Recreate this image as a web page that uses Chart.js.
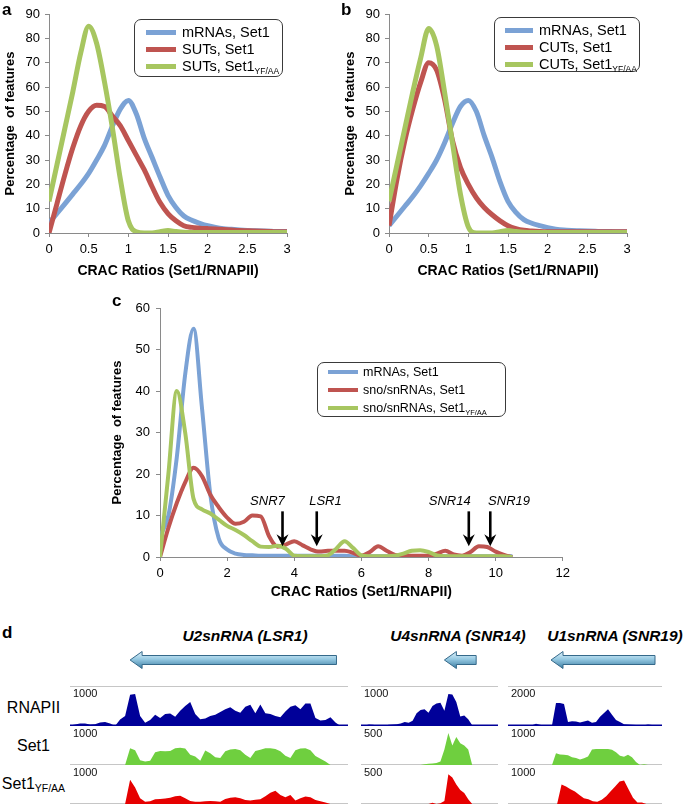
<!DOCTYPE html>
<html>
<head>
<meta charset="utf-8">
<script src="https://cdn.jsdelivr.net/npm/chart.js@4.4.0/dist/chart.umd.min.js"></script>
<style>
  body { margin: 0; background: #fff; font-family: 'Liberation Sans', Arial, sans-serif; color: #000; }
  #fig { position: relative; width: 685px; height: 812px; overflow: hidden; }
  canvas { position: absolute; }
  .plabel { position: absolute; font-weight: bold; font-size: 17px; line-height: 17px; }
  .legend { position: absolute; border: 1px solid #3a3a3a; border-radius: 7px; background: #fff; box-sizing: border-box; }
  .ltxt { position: absolute; white-space: nowrap; }
  .ltxt sub, .tname sub { vertical-align: -3px; line-height: 0; }
  .gene { position: absolute; width: 220px; text-align: center; font-weight: bold; font-style: italic; font-size: 15.5px; line-height: 15.5px; white-space: nowrap; }
  .tname { position: absolute; left: 0; width: 67px; text-align: center; font-size: 16px; line-height: 16px; white-space: nowrap; }
</style>
</head>
<body>
<div id="fig">
  <canvas id="chartA" width="300" height="290" style="left:0;top:0"></canvas>
  <canvas id="chartB" width="300" height="290" style="left:340px;top:0"></canvas>
  <canvas id="chartC" width="470" height="316" style="left:105px;top:290px"></canvas>

  <div class="plabel" style="left:2px;top:1px">a</div>
  <div class="plabel" style="left:341px;top:1px">b</div>
  <div class="plabel" style="left:112px;top:292px">c</div>
  <div class="plabel" style="left:2px;top:624px">d</div>

  <div id="legA" class="legend"></div>
  <div id="legB" class="legend"></div>
  <div id="legC" class="legend"></div>

  <div id="genes"></div>
  <div id="tnames"></div>

  <canvas id="t1r1" width="278" height="81" style="left:70px;top:645px"></canvas>
  <canvas id="t1r2" width="278" height="39" style="left:70px;top:726px"></canvas>
  <canvas id="t1r3" width="278" height="39" style="left:70px;top:765px"></canvas>
  <canvas id="t2r1" width="137" height="81" style="left:361px;top:645px"></canvas>
  <canvas id="t2r2" width="137" height="39" style="left:361px;top:726px"></canvas>
  <canvas id="t2r3" width="137" height="39" style="left:361px;top:765px"></canvas>
  <canvas id="t3r1" width="154" height="81" style="left:508px;top:645px"></canvas>
  <canvas id="t3r2" width="154" height="39" style="left:508px;top:726px"></canvas>
  <canvas id="t3r3" width="154" height="39" style="left:508px;top:765px"></canvas>
</div>

<script>
// ---- panels a / b : distribution of CRAC ratios
const xsAB = [0,0.1,0.2,0.3,0.4,0.5,0.6,0.7,0.8,0.9,1,1.1,1.2,1.3,1.4,1.5,1.6,1.7,1.8,1.9,2,2.1,2.2,2.3,2.4,2.5,2.6,2.7,2.8,2.9,3];
const mrnaA  = [4,8,12,16,20,24.5,30,36,44,51,54.5,49,39,31,23,15.5,10.5,7,5.2,4,3,2.3,1.8,1.5,1.2,1,0.9,0.8,0.7,0.6,0.6];
const sutA   = [0,12,24,35,44,50,52.5,52,48,44,38,32,26,19,12.5,8,5,3,2.3,2,1.8,1.6,1.4,1.2,1,0.9,0.8,0.7,0.6,0.5,0.5];
const sutYfA = [13,28,43,58,74,85,78,62,43,22,5,0.5,0,0,0.5,1,0.6,0.3,0.2,0.2,0.2,0.2,0.2,0.2,0.2,0.2,0.2,0.2,0.2,0.2,0.2];
const mrnaB  = [3,7,11,15,19.5,24.5,30,37,45,52,54.5,50,40,31,21,13,8.5,5.5,4,3,2.2,1.6,1.2,1,0.9,0.8,0.7,0.6,0.6,0.5,0.5];
const cutB   = [3,22,38,51,62,70,67,55,38,27,20,14.5,10.5,7.5,5,3,1.8,1.1,0.8,0.6,0.5,0.5,0.5,0.5,0.5,0.5,0.5,0.5,0.5,0.5,0.5];
const cutYfB = [13,28,43,58,72,84,77,58,37,16,2.5,0,0,0,0.5,1,0.6,0.3,0.2,0.2,0.2,0.2,0.2,0.2,0.2,0.2,0.2,0.2,0.2,0.2,0.2];

// ---- panel c
const xsC = [0,0.25,0.5,0.75,1,1.25,1.5,1.75,2,2.25,2.5,2.75,3,3.25,3.5,3.75,4,4.25,4.5,4.75,5,5.25,5.5,5.75,6,6.25,6.5,6.75,7,7.25,7.5,7.75,8,8.25,8.5,8.75,9,9.25,9.5,9.75,10,10.25,10.5];
const mrnaC  = [5,10,24,44,55,36,15,4.5,1.8,0.8,0.5,0.4,0.3,0.3,0.3,0.3,0.3,0.3,0.3,0.3,0.3,0.3,0.3,0.2,0.2,0.2,0.2,0.2,0.2,0.2,0.2,0.2,0.2,0.2,0.2,0.2,0.2,0.2,0.2,0.2,0.2,0.2,0.2];
const snoC   = [0,7,13,18,21.5,19.5,15,12,9.5,8,8.5,10,9.8,5,2.5,3,3.8,2.8,1.8,1.3,1.5,1.5,1.5,1,0.3,1.2,2.6,1.5,0.5,0.3,0.3,0.3,0.3,0.8,1.5,0.6,0.3,1.2,2.6,2.4,1.3,0.5,0];
const snoYfC = [0,20,40,30,14,11.5,10.5,9,7.5,6.5,5.3,3.8,2.5,2.4,2.7,2,0.3,0.2,0.2,0.2,0.4,2,3.8,2.2,0.4,0.2,0.2,0.2,0.3,0.8,1.5,1.6,1.2,0.4,0.2,0.2,0.2,0.2,0.2,0.2,0.2,0.2,0];
const annoNames  = ['SNR7', 'LSR1', 'SNR14', 'SNR19'];
const annoArrowX = [3.65, 4.67, 9.2, 9.84];
const annoLabelX = [3.2, 4.93, 8.63, 10.4];

const legendA = ['mRNAs, Set1', 'SUTs, Set1', 'SUTs, Set1'];
const legendB = ['mRNAs, Set1', 'CUTs, Set1', 'CUTs, Set1'];
const legendC = ['mRNAs, Set1', 'sno/snRNAs, Set1', 'sno/snRNAs, Set1'];
const legendSubs = ['', '', 'YF/AA'];

// ---- panel d : genome browser tracks (one value per bin)
const lsr1Rnap = [10,40,60,65,40,45,90,100,60,0,160,250,780,800,250,80,150,280,200,300,310,230,380,500,600,300,170,190,250,280,350,420,470,380,330,480,530,320,540,320,300,250,220,360,480,520,420,560,560,200,140,150,220,90,0,0];
const lsr1Set1 = [0,0,0,0,0,0,0,0,0,0,0,0,430,380,120,90,110,330,360,350,360,430,440,420,260,220,110,370,300,200,180,350,400,410,380,260,180,360,390,430,430,410,350,240,180,380,420,430,380,230,160,90,0,0,0,0];
const lsr1Yf   = [0,0,0,0,0,0,0,0,0,0,0,0,620,420,150,60,70,120,130,140,160,200,210,150,80,60,60,70,80,70,60,130,160,170,150,100,90,110,120,200,290,340,230,170,230,90,150,190,170,100,70,40,0,0,0,0];
const snr14Rnap = [10,15,35,30,10,5,10,30,35,45,60,100,80,130,320,400,420,330,500,560,580,380,800,790,600,240,260,170,20,0,0,0,0,0,0];
const snr14Set1 = [0,0,0,0,0,0,0,0,0,0,0,0,0,0,0,0,10,15,20,25,45,200,410,250,360,280,250,200,0,0,0,0,0,0,0];
const snr14Yf   = [0,0,0,0,0,0,0,0,0,0,0,0,0,0,0,0,0,0,15,0,10,40,380,340,250,180,140,60,0,0,0,0,0,0,0];
const snr19Rnap = [0,5,10,10,15,20,40,110,60,30,30,40,1150,1150,1100,200,240,220,180,230,270,160,200,460,650,840,560,300,200,90,80,60,50,40,40,80,50,0,0];
const snr19Set1 = [0,0,0,0,0,0,0,0,0,0,0,0,300,270,260,250,200,180,140,170,220,400,410,410,410,410,390,330,240,210,260,200,80,0,20,0,0,0,0];
const snr19Yf   = [0,0,0,0,0,0,0,0,0,0,0,0,500,450,380,320,230,150,120,70,60,110,200,330,450,580,600,380,160,40,40,0,0,0,0];
const trackMaxLSR1  = [1000, 1000, 1000];
const trackMaxSNR14 = [1000, 500, 500];
const trackMaxSNR19 = [2000, 1000, 1000];
const geneTitles = ['U2snRNA (LSR1)', 'U4snRNA (SNR14)', 'U1snRNA (SNR19)'];
const geneSpans = [[12, 53.2], [21, 29], [10.75, 36.75]];   // in bins, arrow head on the left
const trackNames = ['RNAPII', 'Set1', 'Set1'];
const trackSubs = ['', '', 'YF/AA'];

const BLUE = '#7ba2d5', RED = '#bf5450', GREEN = '#a7c660';
const AXIS = '#8a8a8a';
const FONT = "'Liberation Sans', Arial, sans-serif";
Chart.defaults.font.family = FONT;
Chart.defaults.color = '#000';

function curveChart(id, xs, series, o) {
  const colors = [BLUE, RED, GREEN];
  return new Chart(document.getElementById(id), {
    type: 'line',
    data: {
      datasets: series.map((ys, k) => ({
        data: xs.map((x, i) => ({ x: x, y: ys[i] })),
        borderColor: colors[k],
        borderWidth: o.lw,
        pointRadius: 0,
        fill: false,
        cubicInterpolationMode: 'monotone',
        order: 2 - k   // green on top, like Excel
      }))
    },
    options: {
      responsive: false, animation: false, devicePixelRatio: 1,
      layout: { padding: o.pad },
      plugins: { legend: { display: false }, tooltip: { enabled: false } },
      scales: {
        x: {
          type: 'linear', min: 0, max: o.xmax,
          ticks: { stepSize: o.xstep, font: { size: 13 }, padding: 5, maxRotation: 0, color: '#000', callback: v => String(v) },
          grid: { drawOnChartArea: false, tickLength: 4, color: AXIS },
          border: { color: AXIS },
          title: { display: true, text: 'CRAC Ratios (Set1/RNAPII)', font: { size: 14, weight: 'bold' }, color: '#000', padding: { top: 0, bottom: o.xtPad } },
          afterFit: s => { s.height = o.xh; }
        },
        y: {
          min: 0, max: o.ymax,
          ticks: { stepSize: 10, font: { size: 13 }, padding: o.ytickPad, color: '#000' },
          grid: { drawOnChartArea: false, tickLength: 4, color: AXIS },
          border: { color: AXIS },
          title: { display: true, text: 'Percentage  of features', font: { size: 13, weight: 'bold' }, color: '#000', padding: { top: o.ytPad, bottom: 0 } },
          afterFit: s => { s.width = o.yw; }
        }
      }
    },
    plugins: o.plugins || []
  });
}

const abOpts = { lw: 5, pad: { top: 14, right: 13, left: 0, bottom: 0 }, xmax: 3, xstep: 0.5, ymax: 90, xh: 57, yw: 49, xtPad: 10, ytPad: 3, ytickPad: 5 };
curveChart('chartA', xsAB, [mrnaA, sutA, sutYfA], abOpts);
curveChart('chartB', xsAB, [mrnaB, cutB, cutYfB], abOpts);

// arrows pointing at individual snRNAs in panel c
const snrArrows = {
  id: 'snrArrows',
  afterDatasetsDraw(chart) {
    const { ctx, scales: { x, y } } = chart;
    ctx.save();
    ctx.fillStyle = '#000';
    ctx.strokeStyle = '#000';
    ctx.font = 'italic 13px ' + FONT;
    ctx.textAlign = 'center';
    ctx.textBaseline = 'alphabetic';
    annoNames.forEach((name, i) => {
      const ax = x.getPixelForValue(annoArrowX[i]);
      const top = y.getPixelForValue(11);
      const tip = y.getPixelForValue(2.6);
      ctx.fillText(name, x.getPixelForValue(annoLabelX[i]), y.getPixelForValue(12.5));
      ctx.lineWidth = 2.6;
      ctx.beginPath(); ctx.moveTo(ax, top); ctx.lineTo(ax, tip - 7); ctx.stroke();
      ctx.beginPath();
      ctx.moveTo(ax - 6, tip - 12); ctx.lineTo(ax, tip); ctx.lineTo(ax + 6, tip - 12); ctx.lineTo(ax, tip - 8);
      ctx.closePath(); ctx.fill();
    });
    ctx.restore();
  }
};
curveChart('chartC', xsC, [mrnaC, snoC, snoYfC], {
  lw: 4, pad: { top: 18, right: 10, left: 0, bottom: 0 }, xmax: 12, xstep: 2, ymax: 60,
  xh: 49, yw: 55, xtPad: 5, ytPad: 5, ytickPad: 6, plugins: [snrArrows]
});

// ---- HTML legends (they need subscripts)
function buildLegend(id, labels, L) {
  const box = document.getElementById(id);
  Object.assign(box.style, { left: L.x + 'px', top: L.y + 'px', width: L.w + 'px', height: L.h + 'px' });
  const colors = [BLUE, RED, GREEN];
  labels.forEach((t, i) => {
    const sw = document.createElement('div');
    Object.assign(sw.style, { position: 'absolute', left: L.swX + 'px', top: (L.rows[i] - L.lw / 2) + 'px', width: L.swW + 'px', height: L.lw + 'px', background: colors[i] });
    box.appendChild(sw);
    const tx = document.createElement('div');
    tx.className = 'ltxt';
    Object.assign(tx.style, { left: L.txX + 'px', top: (L.rows[i] - L.fs * 0.49) + 'px', fontSize: L.fs + 'px', lineHeight: L.fs + 'px' });
    tx.innerHTML = t + (legendSubs[i] ? '<sub style="font-size:' + L.ss + 'px">' + legendSubs[i] + '</sub>' : '');
    box.appendChild(tx);
  });
}
buildLegend('legA', legendA, { x: 134, y: 19, w: 149, h: 58, rows: [12, 29, 46], swX: 11, swW: 30, lw: 5, txX: 47, fs: 14.5, ss: 8.5 });
buildLegend('legB', legendB, { x: 494, y: 17, w: 146, h: 55, rows: [12, 29, 46], swX: 10, swW: 28, lw: 5, txX: 44, fs: 14.5, ss: 8.5 });
buildLegend('legC', legendC, { x: 317, y: 362, w: 189, h: 55, rows: [9, 27, 45], swX: 10, swW: 30, lw: 4, txX: 45, fs: 12.5, ss: 7.5 });

// ---- panel d
const geneCenters = [245, 458, 615];
geneTitles.forEach((t, i) => {
  const d = document.createElement('div');
  d.className = 'gene';
  d.style.left = (geneCenters[i] - 110) + 'px';
  d.style.top = '628px';
  d.textContent = t;
  document.getElementById('genes').appendChild(d);
});
const nameTops = [700, 738, 776];
trackNames.forEach((t, i) => {
  const d = document.createElement('div');
  d.className = 'tname';
  d.style.top = nameTops[i] + 'px';
  d.innerHTML = t + (trackSubs[i] ? '<sub style="font-size:10.5px">' + trackSubs[i] + '</sub>' : '');
  document.getElementById('tnames').appendChild(d);
});

function drawGeneArrow(ctx, x0, x1, yc) {
  const head = 12, hh = 8.5, sh = 4.5;
  const g = ctx.createLinearGradient(0, yc - hh, 0, yc + hh);
  g.addColorStop(0, '#e2f3fb');
  g.addColorStop(0.45, '#96c9e2');
  g.addColorStop(1, '#3c7da2');
  ctx.beginPath();
  ctx.moveTo(x0, yc);
  ctx.lineTo(x0 + head, yc - hh);
  ctx.lineTo(x0 + head, yc - sh);
  ctx.lineTo(x1, yc - sh);
  ctx.lineTo(x1, yc + sh);
  ctx.lineTo(x0 + head, yc + sh);
  ctx.lineTo(x0 + head, yc + hh);
  ctx.closePath();
  ctx.fillStyle = g;
  ctx.fill();
  ctx.strokeStyle = '#35698a';
  ctx.lineWidth = 1;
  ctx.stroke();
}

const trackDeco = {
  id: 'trackDeco',
  beforeDatasetsDraw(chart, args, o) {
    const { ctx, chartArea: a } = chart;
    ctx.save();
    ctx.strokeStyle = '#c6c6c6';
    ctx.lineWidth = 1;
    if (o.first) {
      ctx.beginPath(); ctx.moveTo(a.left, a.top + 0.5); ctx.lineTo(a.right, a.top + 0.5); ctx.stroke();
    }
    ctx.beginPath(); ctx.moveTo(a.left, a.bottom - 0.5); ctx.lineTo(a.right, a.bottom - 0.5); ctx.stroke();
    ctx.restore();
  },
  afterDatasetsDraw(chart, args, o) {
    const { ctx, chartArea: a, scales: { x } } = chart;
    ctx.save();
    if (o.first) {
      ctx.strokeStyle = o.color;
      ctx.lineWidth = 1.5;
      ctx.beginPath(); ctx.moveTo(a.left, a.bottom - 0.75); ctx.lineTo(a.right, a.bottom - 0.75); ctx.stroke();
      drawGeneArrow(ctx, x.getPixelForValue(o.gene[0]), x.getPixelForValue(o.gene[1]), a.top - 26);
    }
    ctx.fillStyle = '#111';
    ctx.font = '11px ' + FONT;
    ctx.textBaseline = 'top';
    ctx.fillText(o.label, a.left + 3, a.top + 2);
    ctx.restore();
  }
};

const TRACK_COLORS = ['#000099', '#6fcf3f', '#e60000'];
function trackChart(id, values, row, ymax, gene) {
  return new Chart(document.getElementById(id), {
    type: 'line',
    data: {
      datasets: [{
        data: values.map((v, i) => ({ x: i, y: v })),
        fill: 'origin',
        backgroundColor: TRACK_COLORS[row],
        borderWidth: 0,
        pointRadius: 0,
        tension: 0
      }]
    },
    options: {
      responsive: false, animation: false, devicePixelRatio: 1,
      layout: { padding: { top: row === 0 ? 41 : 0, left: 0, right: 0, bottom: 0 } },
      plugins: {
        legend: { display: false }, tooltip: { enabled: false },
        trackDeco: { first: row === 0, color: TRACK_COLORS[0], label: String(ymax), gene: gene }
      },
      scales: {
        x: { type: 'linear', display: false, min: 0, max: values.length - 0.5 },
        y: { display: false, min: 0, max: ymax }
      }
    },
    plugins: [trackDeco]
  });
}

[[lsr1Rnap, lsr1Set1, lsr1Yf], [snr14Rnap, snr14Set1, snr14Yf], [snr19Rnap, snr19Set1, snr19Yf]].forEach((col, c) => {
  const maxes = [trackMaxLSR1, trackMaxSNR14, trackMaxSNR19][c];
  col.forEach((vals, r) => trackChart('t' + (c + 1) + 'r' + (r + 1), vals, r, maxes[r], geneSpans[c]));
});
</script>
</body>
</html>
